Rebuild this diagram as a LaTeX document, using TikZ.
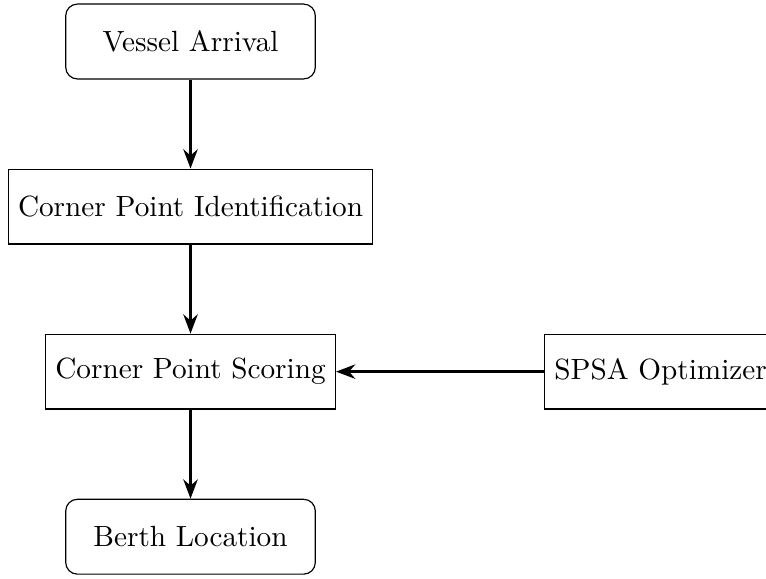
\documentclass[tikz,border=0pt]{standalone}
\usepackage{tikz}
\usetikzlibrary{arrows.meta, positioning}

\begin{document}
\begin{tikzpicture}[
        node distance=1.07cm,
        every node/.style={align=center},
        terminal/.style={rectangle, rounded corners, draw, minimum width=3cm, minimum height=0.9cm},
        process/.style={rectangle, draw, minimum height=0.9cm},
        flow/.style={-{Stealth}, thick}
    ]
        \useasboundingbox (-2.29, 0.499) rectangle (6.917, -6.46);

        % --- main chain ---
        \node[terminal] (arrival) at (0, 0) {Vessel Arrival};
        \node[process, below=of arrival] (ident) {Corner Point Identification};
        \node[process, below=of ident] (scoring) {Corner Point Scoring};
        \node[terminal, below=of scoring] (berth) {Berth Location};

        % --- optimizer on the side ---
        \node[process, right=2.5cm of scoring] (spsa) {SPSA Optimizer};

        \draw[flow] (arrival) -- (ident);
        \draw[flow] (ident) -- (scoring);
        \draw[flow] (scoring) -- (berth);
        \draw[flow] (spsa) -- (scoring);
\end{tikzpicture}
\end{document}
